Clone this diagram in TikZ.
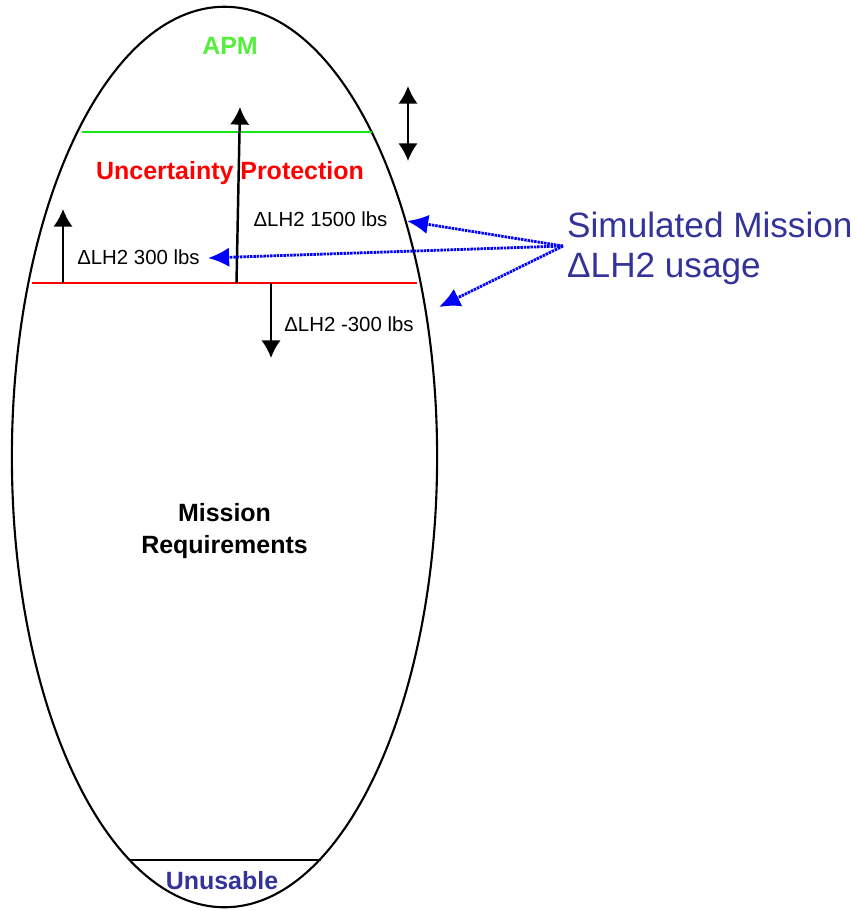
\documentclass[tikz,border=0pt]{standalone}
\usepackage{fontspec}
\setmainfont{Liberation Sans}
\usetikzlibrary{arrows.meta,positioning,shapes.geometric}
\definecolor{apmgreen}{RGB}{85,238,60}
\definecolor{linegreen}{RGB}{20,230,20}
\definecolor{navy}{RGB}{51,51,153}

\begin{document}
\begin{tikzpicture}[x=0.01cm, y=-0.01cm, >=Latex, zone/.style={font=\bfseries\fontsize{7.1}{9.1}\selectfont, inner sep=0}, lbl/.style={font=\fontsize{5.8}{7}\selectfont, inner sep=0}, levelshift/.style={->, line width=0.7pt, >={Latex[length=5pt,width=5.5pt]}}, usage/.style={->, blue, line width=0.8pt, dash pattern=on 0.7pt off 0.25pt, >={Latex[length=6pt,width=5.5pt]}}]
\useasboundingbox (0,0) rectangle (856,911);
\node[ellipse, draw, line width=0.6pt, minimum width=4.25cm, minimum height=9cm, inner sep=0] (tank) at (224.5,457) {};
% level lines
\draw[linegreen, line width=0.45pt] (82,132) -- (372,132);
\draw[red, line width=0.45pt] (32,283) -- (417,283);
\draw[line width=0.6pt] (130,860) -- (321,860);
% zone names
\node[zone, text=apmgreen] (apm) at (230,46) {APM};
\node[zone, red] (unc) at (230,173) {Uncertainty Protection};
\node[zone, align=center] (req) at (224.5,531) {Mission\\Requirements};
\node[zone, text=navy] (unus) at (222,881) {Unusable};
% level shifts
\coordinate (a300) at (63,283); \coordinate (a300tip) at (63,209);
\coordinate (a1500) at (236.5,283); \coordinate (a1500tip) at (240,107);
\coordinate (am300) at (271,283); \coordinate (am300tip) at (271,358);
\coordinate (apmtop) at (408,86); \coordinate (apmbot) at (408,161);
\draw[levelshift] (a300) -- (a300tip);
\draw[levelshift] (a1500) -- (a1500tip);
\draw[levelshift] (am300) -- (am300tip);
\draw[levelshift, <->] (apmtop) -- (apmbot);
\node[lbl] (l300) at (138.5,257) {ΔLH2 300 lbs};
\node[lbl] (l1500) at (320.5,219) {ΔLH2 1500 lbs};
\node[lbl] (lm300) at (349,324) {ΔLH2 -300 lbs};
% simulated usage
\node[font=\fontsize{10}{11.4}\selectfont, text=navy, align=left, anchor=west, inner sep=1pt] (sim) at (563,248) {Simulated Mission\\ΔLH2 usage};
\coordinate (t1500) at (407,221); \coordinate (t300) at (208,258); \coordinate (tm300) at (439,307);
\draw[usage] ([yshift=0.02cm]sim.west) -- (t1500);
\draw[usage] ([yshift=0.02cm]sim.west) -- (t300);
\draw[usage] ([yshift=0.02cm]sim.west) -- (tm300);
\end{tikzpicture}
\end{document}
